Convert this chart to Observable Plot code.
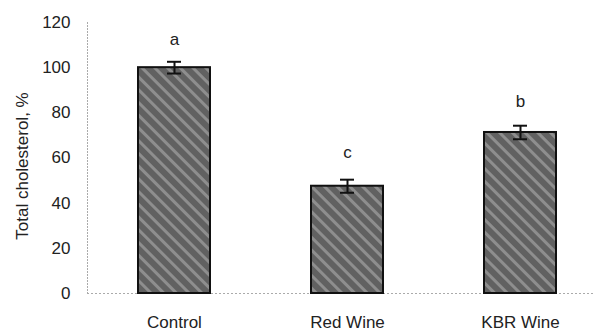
<!DOCTYPE html>
<html>
<head>
<meta charset="utf-8">
<script src="https://cdn.jsdelivr.net/npm/d3@7"></script>
<script src="https://cdn.jsdelivr.net/npm/@observablehq/plot@0.6"></script>
<style>
  body { margin: 0; background: #fff; }
  #chart svg { display: block; }
</style>
</head>
<body>
<div id="chart"></div>
<script>
const categories = ["Control", "Red Wine", "KBR Wine"];
const means = [100, 47.5, 71.3];
const errors = [2.6, 2.9, 3.0];
const letters = ["a", "c", "b"];
const letterY = [112.5, 62.3, 84.8];
const yTicks = [0, 20, 40, 60, 80, 100, 120];

const data = categories.map((c, i) => ({
  cat: c, mean: means[i], lo: means[i] - errors[i], hi: means[i] + errors[i],
  letter: letters[i], ly: letterY[i]
}));

const font = "'Liberation Sans', Arial, sans-serif";

const plot = Plot.plot({
  width: 595,
  height: 331,
  marginLeft: 87,
  marginRight: -11,
  marginTop: 22,
  marginBottom: 38,
  style: { fontFamily: font, fontSize: "17px", color: "#222", background: "#fff" },
  x: { domain: categories, paddingInner: 0.584, paddingOuter: 0.292, label: null },
  y: { domain: [0, 120], label: null },
  marks: [
    Plot.frame({ anchor: "left", stroke: "#aaa", strokeDasharray: "1,2" }),
    Plot.ruleY([0], { stroke: "#aaa", strokeDasharray: "2,2" }),
    Plot.axisY({ ticks: yTicks, tickSize: 0, tickPadding: 17, fontSize: 17, label: null }),
    Plot.axisX({ tickSize: 0, tickPadding: 22, fontSize: 17, label: null }),
    Plot.text(["Total cholesterol, %"], { frameAnchor: "left", textAnchor: "middle", dx: -65, dy: 8, rotate: -90, fontSize: 17, fill: "#222" }),
    Plot.barY(data, { x: "cat", y: "mean", fill: "url(#hatch)", stroke: "#111", strokeWidth: 2 }),
    Plot.ruleX(data, { x: "cat", y1: "lo", y2: "hi", stroke: "#111", strokeWidth: 2 }),
    Plot.tickY(data, { x: "cat", y: "lo", stroke: "#111", strokeWidth: 2, inset: 29 }),
    Plot.tickY(data, { x: "cat", y: "hi", stroke: "#111", strokeWidth: 2, inset: 29 }),
    Plot.text(data, { x: "cat", y: "ly", text: "letter", fontSize: 17, fill: "#222" })
  ]
});

const ns = "http://www.w3.org/2000/svg";
const defs = document.createElementNS(ns, "defs");
defs.innerHTML = `
  <pattern id="hatch" patternUnits="userSpaceOnUse" width="9" height="9" patternTransform="rotate(45)">
    <rect width="9" height="9" fill="#616161"></rect>
    <rect y="0" width="9" height="3" fill="#8e8e8e"></rect>
  </pattern>`;
plot.insertBefore(defs, plot.firstChild);
document.getElementById("chart").appendChild(plot);
</script>
</body>
</html>
